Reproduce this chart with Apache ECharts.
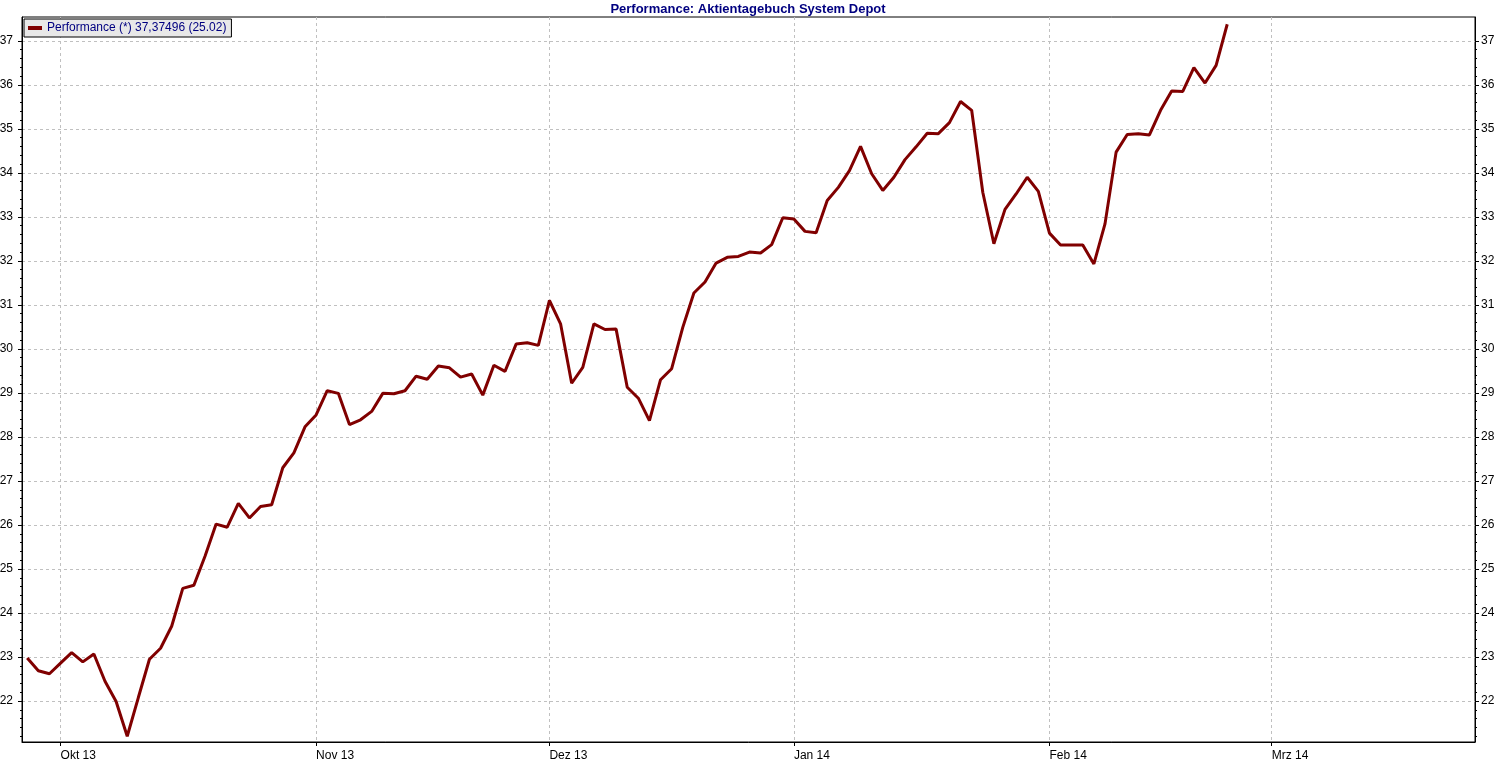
<!DOCTYPE html>
<html>
<head>
<meta charset="utf-8">
<script src="https://cdn.jsdelivr.net/npm/echarts@6/dist/echarts.min.js"></script>
<style>
html,body{margin:0;padding:0;background:#fff;}
#chart{width:1496px;height:763px;}
</style>
</head>
<body>
<div id="chart"></div>
<script>
// ---- data ----
var seriesName = 'Performance (*) 37,37496 (25.02)';
var chartTitle = 'Performance: Aktientagebuch System Depot';
var firstDay = '2013-09-26';   // first trading day shown (axis is business-day based)
var lastDay = '2014-03-27';    // last business day on the axis
var tickLabels = ['Okt 13', 'Nov 13', 'Dez 13', 'Jan 14', 'Feb 14', 'Mrz 14'];
var yTicks = [22, 23, 24, 25, 26, 27, 28, 29, 30, 31, 32, 33, 34, 35, 36, 37];
// daily performance values, one per business day from 2013-09-26 to 2014-02-25
var values = [
  22.98, 22.69, 22.62, 22.86, 23.10, 22.89, 23.07, 22.45, 21.99, 21.20,
  22.08, 22.95, 23.20, 23.70, 24.56, 24.63, 25.29, 26.02, 25.95, 26.49,
  26.16, 26.42, 26.46, 27.30, 27.64, 28.23, 28.50, 29.05, 28.99, 28.28,
  28.39, 28.58, 28.99, 28.98, 29.05, 29.38, 29.31, 29.61, 29.57, 29.36,
  29.43, 28.95, 29.63, 29.49, 30.11, 30.14, 30.08, 31.10, 30.57, 29.22,
  29.58, 30.57, 30.44, 30.45, 29.13, 28.88, 28.37, 29.30, 29.55, 30.49,
  31.27, 31.52, 31.95, 32.08, 32.10, 32.20, 32.18, 32.37, 32.98, 32.95,
  32.67, 32.64, 33.37, 33.67, 34.05, 34.60, 33.98, 33.60, 33.90, 34.30,
  34.59, 34.90, 34.89, 35.14, 35.62, 35.42, 33.56, 32.39, 33.17, 33.52,
  33.90, 33.58, 32.63, 32.36, 32.36, 32.36, 31.93, 32.84, 34.47, 34.87,
  34.89, 34.86, 35.42, 35.86, 35.85, 36.39, 36.04, 36.44, 37.37496
];

// ---- business-day categories ----
function businessDays(a, b) {
  var out = [];
  var d = new Date(a + 'T00:00:00Z');
  var e = new Date(b + 'T00:00:00Z');
  while (d <= e) {
    var wd = d.getUTCDay();
    if (wd !== 0 && wd !== 6) out.push(d.toISOString().slice(0, 10));
    d = new Date(d.getTime() + 86400000);
  }
  return out;
}
var days = businessDays(firstDay, lastDay);
var monthStarts = [];
for (var i = 1; i < days.length; i++) {
  if (days[i].slice(5, 7) !== days[i - 1].slice(5, 7)) monthStarts.push(i);
}
var yMinor = [];
for (var k = 21; k < 37; k++) {
  for (var m = 1; m <= 4; m++) yMinor.push(Math.round((k + m * 0.2) * 10) / 10);
}
var seriesData = values.map(function (v, idx) { return [idx, v]; });

var FONT = '"Liberation Sans", Arial, sans-serif';
var Y_MIN = 21.07, Y_MAX = 37.54, X_MIN = -0.47, X_MAX = 130.3;
var gridLine = { show: true, lineStyle: { color: '#c0c0c0', type: [3, 3], width: 1 } };
var gridBox = { left: 22, right: 21, top: 17, bottom: 21, outerBoundsMode: 'none', containLabel: false };

function yAxisDef(pos, major, gridIndex) {
  return {
    type: 'value', gridIndex: gridIndex, position: pos, offset: 0, min: Y_MIN, max: Y_MAX,
    axisLine: { show: major, onZero: false, lineStyle: { color: '#000', width: 1 } },
    axisTick: { show: true, inside: false, length: major ? 4 : 2,
      customValues: major ? yTicks : yMinor, lineStyle: { color: '#000', width: 1 } },
    axisLabel: { show: major, customValues: yTicks, color: '#000', fontSize: 12,
      fontFamily: FONT, margin: pos === 'left' ? 9 : 6 },
    splitLine: (major && pos === 'left') ? gridLine : { show: false },
    minorTick: { show: false }
  };
}

var chart = echarts.init(document.getElementById('chart'), null, { renderer: 'canvas' });
chart.setOption({
  animation: false,
  backgroundColor: '#fff',
  title: {
    text: chartTitle, left: 'center', top: 3, padding: 0,
    textStyle: { color: '#000080', fontSize: 13, fontWeight: 'bold', fontFamily: FONT }
  },
  legend: {
    data: [seriesName], left: 24, top: 19, padding: [2, 5, 2, 4],
    backgroundColor: '#e8e8e8', borderColor: '#000', borderWidth: 1, borderRadius: 0,
    icon: 'rect', itemWidth: 14, itemHeight: 4,
    textStyle: { color: '#000080', fontSize: 12, fontFamily: FONT, lineHeight: 14 }
  },
  grid: [
    Object.assign({ show: true, borderColor: '#000', borderWidth: 1, backgroundColor: '#fff' }, gridBox),
    Object.assign({ show: false }, gridBox)
  ],
  xAxis: [{
    type: 'value', gridIndex: 0, min: X_MIN, max: X_MAX,
    axisLine: { show: true, onZero: false, lineStyle: { color: '#000', width: 1 } },
    axisTick: { show: true, length: 4, customValues: monthStarts, lineStyle: { color: '#000' } },
    axisLabel: {
      customValues: monthStarts, color: '#000', fontSize: 12, fontFamily: FONT,
      align: 'left', margin: 8,
      formatter: function (v) { var j = monthStarts.indexOf(v); return j >= 0 ? tickLabels[j] : ''; }
    },
    splitLine: gridLine
  }, {
    type: 'value', gridIndex: 1, min: X_MIN, max: X_MAX, show: false,
    axisLine: { onZero: false }
  }],
  yAxis: [
    yAxisDef('left', true, 0), yAxisDef('right', true, 0),
    yAxisDef('left', false, 1), yAxisDef('right', false, 1)
  ],
  series: [{
    name: seriesName, type: 'line', data: seriesData, xAxisIndex: 0, yAxisIndex: 0,
    symbol: 'none', lineStyle: { color: '#800000', width: 3 }, itemStyle: { color: '#800000' },
    clip: true
  }]
});
</script>
</body>
</html>
